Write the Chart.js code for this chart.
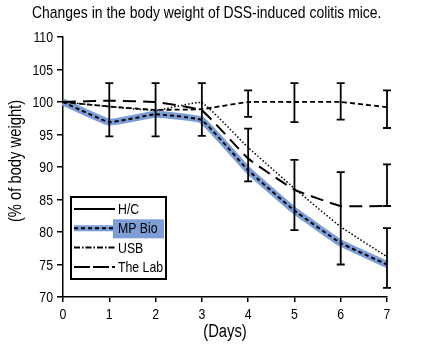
<!DOCTYPE html>
<html>
<head>
<meta charset="utf-8">
<script src="https://cdn.jsdelivr.net/npm/chart.js@4.4.0/dist/chart.umd.min.js"></script>
<style>
  html, body { margin: 0; padding: 0; background: #fff; }
</style>
</head>
<body>
<canvas id="bw" width="426" height="350"></canvas>
<script>
// --- data ---
const days = ['0', '1', '2', '3', '4', '5', '6', '7'];
const hcValues    = [100, 99.3, 98.8, 98.9, 100, 100, 100, 99.2];
const mpBioValues = [100, 96.9, 98.1, 97.2, 89.5, 83.3, 78.3, 75.0];
const usbValues   = [100, 99.3, 98.7, 99.9, 93.0, 86.7, 80.8, 76.2];
const labValues   = [100, 100.2, 100, 98.7, 91.3, 86.5, 84.0, 84.0];

// error bars (day index, low, high)
const errDays = [1, 2, 3, 4, 5, 6, 7, 4, 5, 6, 7, 7];
const errLow  = [94.7, 94.7, 94.8, 97.7, 96.9, 97.3, 96.0, 87.8, 80.3, 75.0, 84.0, 71.4];
const errHigh = [102.9, 102.9, 102.9, 101.8, 102.9, 102.9, 101.8, 95.9, 91.1, 89.2, 90.4, 80.6];

const legendNames = ['H/C', 'MP Bio', 'USB', 'The Lab'];
const yTicks = [70, 75, 80, 85, 90, 95, 100, 105, 110];

const FONT = "'Liberation Sans', Arial, sans-serif";
const BAND = 'rgb(125, 157, 214)';
const SQUEEZE = 0.82; // condensed look of the original typeface

// legend styles (dash patterns as shown in the key)
const legendDash = [[], [4, 3], [6, 2, 1.5, 2], [16, 3]];

// narrow text: normal font squeezed horizontally
function narrowText(ctx, text, x, y, size, align, baseline, rotate) {
  ctx.save();
  ctx.translate(x, y);
  if (rotate) ctx.rotate(-Math.PI / 2);
  ctx.scale(SQUEEZE, 1);
  ctx.font = size + 'px ' + FONT;
  ctx.textAlign = align;
  ctx.textBaseline = baseline;
  ctx.fillStyle = '#000';
  ctx.fillText(text, 0, 0);
  ctx.restore();
}

const extras = {
  id: 'extras',
  afterDatasetsDraw(chart) {
    const { ctx, scales: { x, y } } = chart;
    ctx.save();
    ctx.strokeStyle = '#000';
    ctx.lineWidth = 1.8;
    ctx.setLineDash([]);
    errDays.forEach((d, i) => {
      const px = x.getPixelForValue(d);
      const p1 = y.getPixelForValue(errLow[i]);
      const p2 = y.getPixelForValue(errHigh[i]);
      ctx.beginPath();
      ctx.moveTo(px, p1); ctx.lineTo(px, p2);
      ctx.moveTo(px - 4, p1); ctx.lineTo(px + 4, p1);
      ctx.moveTo(px - 4, p2); ctx.lineTo(px + 4, p2);
      ctx.stroke();
    });
    ctx.restore();
  },
  afterDraw(chart) {
    const { ctx, chartArea: ca, scales: { x, y } } = chart;

    // title
    narrowText(ctx, 'Changes in the body weight of DSS-induced colitis mice.', 32, 18, 17, 'left', 'alphabetic');

    // tick labels
    yTicks.forEach(v => narrowText(ctx, String(v), ca.left - 10, y.getPixelForValue(v) + 1, 15, 'right', 'middle'));
    days.forEach((d, i) => narrowText(ctx, d, x.getPixelForValue(i), ca.bottom + 22, 15, 'center', 'alphabetic'));

    // axis titles
    narrowText(ctx, '(Days)', (ca.left + ca.right) / 2, ca.bottom + 40, 18, 'center', 'alphabetic');
    narrowText(ctx, '(% of body weight)', 21, 161, 18, 'center', 'alphabetic', true);

    // legend box
    ctx.save();
    const bx = ca.left + 8, by = ca.top + 160, bw = 95, bh = 82;
    ctx.fillStyle = '#fff';
    ctx.fillRect(bx, by, bw, bh);
    ctx.lineWidth = 2;
    ctx.strokeStyle = '#000';
    ctx.setLineDash([]);
    ctx.strokeRect(bx, by, bw, bh);

    legendNames.forEach((name, i) => {
      const ly = by + 12 + i * 19.3;
      if (i === 1) {
        ctx.fillStyle = BAND;
        ctx.fillRect(bx + 42, ly - 9, 51, 19);
        ctx.strokeStyle = BAND;
        ctx.lineWidth = 6;
        ctx.setLineDash([]);
        ctx.beginPath(); ctx.moveTo(bx + 3, ly); ctx.lineTo(bx + 44, ly); ctx.stroke();
      }
      ctx.strokeStyle = '#000';
      ctx.lineWidth = 2;
      ctx.setLineDash(legendDash[i]);
      ctx.beginPath(); ctx.moveTo(bx + 3, ly); ctx.lineTo(bx + 44, ly); ctx.stroke();
      narrowText(ctx, name, bx + 47, ly + 1, 15, 'left', 'middle');
    });
    ctx.restore();
  }
};

const axisCommon = {
  grid: { display: true, drawOnChartArea: false, drawTicks: true, color: '#000', lineWidth: 1.5 },
  border: { display: true, color: '#000', width: 1.5 }
};

new Chart(document.getElementById('bw'), {
  type: 'line',
  data: {
    labels: days,
    datasets: [
      { label: 'H/C', data: hcValues, borderColor: '#000', borderWidth: 1.8, borderDash: [5, 3], order: 1 },
      { label: 'USB', data: usbValues, borderColor: '#000', borderWidth: 1.5, borderDash: [1.5, 2], order: 2 },
      { label: 'The Lab', data: labValues, borderColor: '#000', borderWidth: 2, borderDash: [13, 7], order: 3 },
      { label: 'MP Bio', data: mpBioValues, borderColor: '#000', borderWidth: 2, borderDash: [4, 3], order: 0 },
      { label: 'MP Bio band', data: mpBioValues, borderColor: BAND, borderWidth: 7, order: 10 }
    ]
  },
  options: {
    responsive: false,
    animation: false,
    elements: { point: { radius: 0 }, line: { tension: 0.1, fill: false } },
    layout: { padding: { top: 37, right: 39, bottom: 0, left: 0 } },
    plugins: { legend: { display: false }, tooltip: { enabled: false }, title: { display: false } },
    scales: {
      x: {
        ...axisCommon,
        type: 'category',
        offset: false,
        grid: { ...axisCommon.grid, tickLength: 5 },
        ticks: { display: false },
        afterFit: s => { s.height = 53; }
      },
      y: {
        ...axisCommon,
        min: 70,
        max: 110,
        grid: { ...axisCommon.grid, tickLength: 6 },
        afterBuildTicks: s => { s.ticks = yTicks.map(v => ({ value: v })); },
        ticks: { display: false },
        afterFit: s => { s.width = 63; }
      }
    }
  },
  plugins: [extras]
});
</script>
</body>
</html>
